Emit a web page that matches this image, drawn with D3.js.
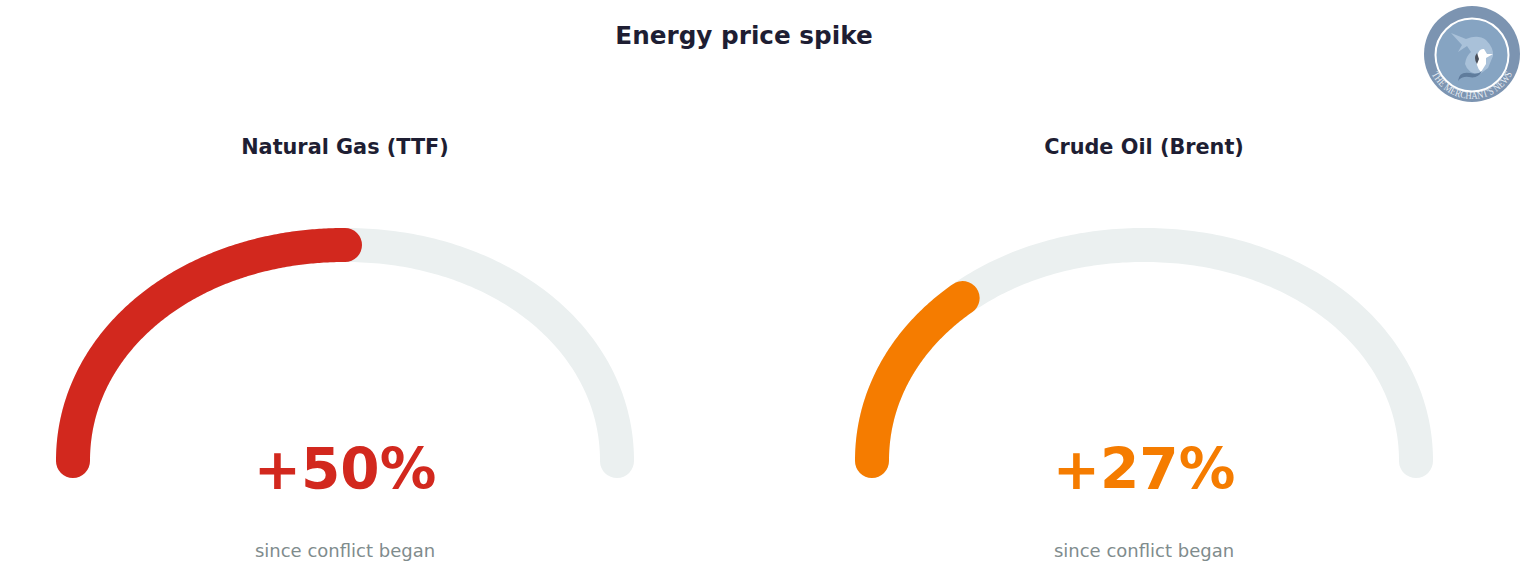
<!DOCTYPE html>
<html>
<head>
<meta charset="utf-8">
<script src="https://cdn.jsdelivr.net/npm/d3@7"></script>
<style>
  html, body { margin: 0; padding: 0; background: #fff; }
  text { font-family: "DejaVu Sans", sans-serif; }
</style>
</head>
<body>
<div id="chart"></div>
<script>
const chartTitle = "Energy price spike";
const names = ["Natural Gas (TTF)", "Crude Oil (Brent)"];
const values = [50, 27];
const valueLabels = ["+50%", "+27%"];
const captions = ["since conflict began", "since conflict began"];
const colors = ["#d2281e", "#f57c00"];

const width = 1524, height = 588;
const svg = d3.select("#chart")
  .append("svg")
  .attr("width", width)
  .attr("height", height)
  .style("display", "block");

svg.append("text")
  .attr("x", 744).attr("y", 43.5)
  .attr("text-anchor", "middle")
  .attr("font-size", 24.7).attr("font-weight", "bold")
  .attr("fill", "#1e1e33")
  .text(chartTitle);

// one panel per gauge, the arc is a bit flatter than a half circle and very slightly squared off
const panelX = d3.scalePoint().domain(names).range([345, 1144]);
const rx = 272, ry = 216, baseY = 461, squareness = 0.98;
const angle = d3.scaleLinear().domain([0, 100]).range([Math.PI, 0]);

const line = d3.line()
  .x(v => {
    const c = Math.cos(angle(v));
    return rx * Math.sign(c) * Math.pow(Math.abs(c), squareness);
  })
  .y(v => -ry * Math.pow(Math.sin(angle(v)), squareness));

const panels = svg.selectAll("g.panel")
  .data(names)
  .enter()
  .append("g")
  .attr("class", "panel")
  .attr("transform", d => `translate(${panelX(d)},${baseY})`);

panels.append("path")
  .attr("d", line(d3.range(0, 100.5, 0.5)))
  .attr("fill", "none")
  .attr("stroke", "#ebf0f0")
  .attr("stroke-width", 34)
  .attr("stroke-linecap", "round");

panels.append("path")
  .attr("d", (d, i) => line(d3.range(0, values[i] + 0.25, 0.25)))
  .attr("fill", "none")
  .attr("stroke", (d, i) => colors[i])
  .attr("stroke-width", 34)
  .attr("stroke-linecap", "round");

panels.append("text")
  .attr("y", -307.5)
  .attr("text-anchor", "middle")
  .attr("font-size", 20.8).attr("font-weight", "bold")
  .attr("fill", "#1e1e33")
  .text(d => d);

panels.append("text")
  .attr("y", 28)
  .attr("text-anchor", "middle")
  .attr("font-size", 56.5).attr("font-weight", "bold")
  .attr("fill", (d, i) => colors[i])
  .text((d, i) => valueLabels[i]);

panels.append("text")
  .attr("y", 96)
  .attr("text-anchor", "middle")
  .attr("font-size", 18)
  .attr("fill", "#7f8c8d")
  .text((d, i) => captions[i]);

// round logo top right
const defs = svg.append("defs");
defs.append("filter").attr("id", "soft")
  .append("feGaussianBlur").attr("stdDeviation", 0.5);

const logo = svg.append("g").attr("transform", "translate(1472,54)");
logo.append("circle").attr("r", 48).attr("fill", "#7c94b1");
logo.append("circle").attr("r", 36.5).attr("cy", 1).attr("fill", "#86a4c2").attr("stroke", "#fff").attr("stroke-width", 2);

const art = logo.append("g").attr("filter", "url(#soft)");
art.append("path")
  .attr("d", "M-21,-21 L-6,-15 Q6,-20 14,-14 Q22,-6 21,2 L16,14 L8,20 Q-4,20 -7,10 Q-6,2 -1,-2 L-5,-8 L-14,-2 L-10,-9 L-21,-21 Z")
  .attr("fill", "#a9c1d9");
art.append("path")
  .attr("d", "M5,2 Q7,-6 12,-5 L15,0 L21,0 L14,4 L14,10 L9,18 Q3,12 5,2 Z")
  .attr("fill", "#fff");
art.append("path")
  .attr("d", "M5,-1 Q1,4 5,10 L7,5 Z")
  .attr("fill", "#4a4f5a");
art.append("path")
  .attr("d", "M-14,27 Q-13,17 -2,19 Q6,21 10,17 Q6,25 -3,23 Q-10,22 -14,27 Z")
  .attr("fill", "#5f7b9c");

logo.append("path")
  .attr("id", "logoText")
  .attr("d", "M-45,0 A45,45 0 0 0 45,0")
  .attr("fill", "none");
logo.append("text")
  .attr("fill", "#e8eef4")
  .attr("font-size", 10.5)
  .style("font-family", "'Liberation Serif', serif")
  .append("textPath")
  .attr("href", "#logoText")
  .attr("startOffset", "50%")
  .attr("text-anchor", "middle")
  .attr("textLength", 100)
  .attr("lengthAdjust", "spacingAndGlyphs")
  .text("THE MERCHANT'S NEWS");
</script>
</body>
</html>
